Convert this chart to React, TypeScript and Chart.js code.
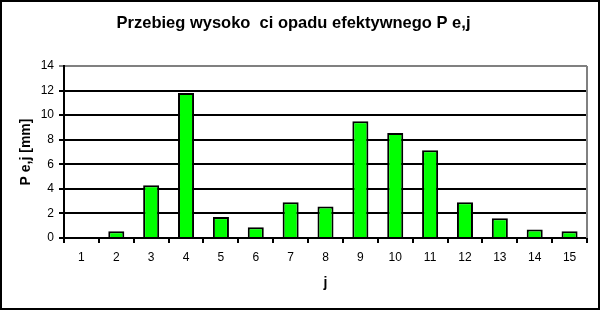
import React, { useEffect, useRef } from "react";
import { Chart, registerables } from "chart.js";

Chart.register(...registerables);

const categories = ["1", "2", "3", "4", "5", "6", "7", "8", "9", "10", "11", "12", "13", "14", "15"];
const values = [0, 0.55, 4.3, 11.8, 1.7, 0.88, 2.9, 2.57, 9.5, 8.55, 7.15, 2.9, 1.6, 0.7, 0.55];
const yTicks = [0, 2, 4, 6, 8, 10, 12, 14];
const titleText = "Przebieg wysoko  ci opadu efektywnego P e,j";
const yTitle = "P e,j [mm]";
const xTitle = "j";

const FONT = "'Liberation Sans', Arial, sans-serif";

export default function App() {
  const ref = useRef<HTMLCanvasElement | null>(null);

  useEffect(() => {
    document.body.style.margin = "0";
    const canvas = ref.current;
    if (!canvas) return;

    const framePlugin = {
      id: "frame",
      beforeDraw(chart: any) {
        const ctx = chart.ctx;
        ctx.save();
        ctx.fillStyle = "#ffffff";
        ctx.fillRect(0, 0, chart.width, chart.height);
        ctx.restore();
      },
      afterDraw(chart: any) {
        const ctx = chart.ctx;
        const a = chart.chartArea;
        ctx.save();
        ctx.strokeStyle = "#808080";
        ctx.lineWidth = 2;
        ctx.beginPath();
        ctx.moveTo(a.right, a.top);
        ctx.lineTo(a.right, a.bottom);
        ctx.stroke();
        ctx.strokeStyle = "#000000";
        ctx.lineWidth = 2;
        ctx.strokeRect(1, 1, chart.width - 2, chart.height - 2);
        ctx.restore();
      },
    };

    const chart = new Chart(canvas, {
      type: "bar",
      data: {
        labels: categories,
        datasets: [
          {
            data: values,
            backgroundColor: "#00ff00",
            borderColor: "#000000",
            borderWidth: 2,
            barPercentage: 0.46,
            categoryPercentage: 1,
          },
        ],
      },
      options: {
        animation: false,
        responsive: false,
        devicePixelRatio: 1,
        layout: { padding: { left: 0, right: 13, top: 0, bottom: 0 } },
        plugins: {
          legend: { display: false },
          tooltip: { enabled: false },
          title: {
            display: true,
            text: titleText,
            color: "#000000",
            font: { family: FONT, size: 16.5, weight: "bold" },
            padding: { top: 13.4, bottom: 32.8 },
          },
        },
        scales: {
          x: {
            grid: {
              offset: true,
              drawOnChartArea: false,
              drawTicks: true,
              tickLength: 5,
              color: "#000000",
              lineWidth: 2,
            },
            border: { display: true, color: "#000000", width: 2 },
            ticks: {
              color: "#000000",
              font: { family: FONT, size: 12 },
              padding: 7.5,
              maxRotation: 0,
              autoSkip: false,
            },
            title: {
              display: true,
              text: xTitle,
              color: "#000000",
              font: { family: FONT, size: 14, weight: "bold" },
              padding: { top: 0, bottom: 18.6 },
            },
            afterFit(scale: any) {
              scale.height = 72;
            },
          },
          y: {
            min: 0,
            max: 14,
            afterBuildTicks(scale: any) {
              scale.ticks = yTicks.map((v) => ({ value: v }));
            },
            grid: {
              drawTicks: true,
              tickLength: 5,
              lineWidth: 2,
              color: (c: any) => (c.tick && c.tick.value === 14 ? "#808080" : "#000000"),
            },
            border: { display: true, color: "#000000", width: 2 },
            ticks: {
              color: "#000000",
              font: { family: FONT, size: 12 },
              padding: 5,
            },
            title: {
              display: true,
              text: yTitle,
              color: "#000000",
              font: { family: FONT, size: 14, weight: "bold" },
              padding: { top: 17.6, bottom: 0 },
            },
            afterFit(scale: any) {
              scale.width = 64;
            },
          },
        },
      },
      plugins: [framePlugin],
    });

    return () => chart.destroy();
  }, []);

  return (
    <div style={{ width: 600, height: 310 }}>
      <canvas ref={ref} width={600} height={310} style={{ display: "block" }} />
    </div>
  );
}
